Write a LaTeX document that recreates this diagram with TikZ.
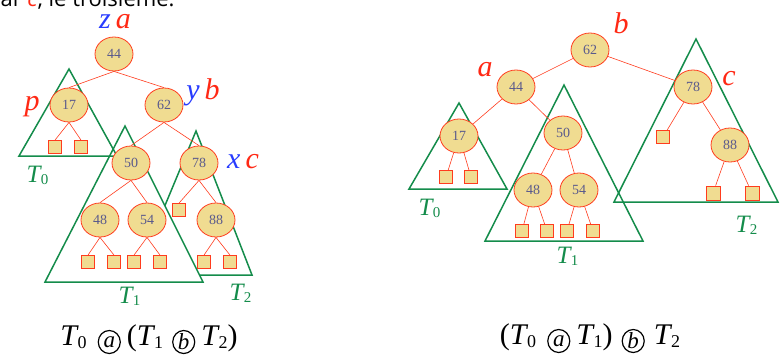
\documentclass[tikz,border=0pt]{standalone}
\usepackage{fontspec}
\usepackage{graphicx}
\setmainfont{Liberation Serif}
\newfontfamily\introfont{Open Sans}
\usetikzlibrary{shapes.geometric}
\definecolor{keyfill}{RGB}{240,220,145}
\definecolor{keyline}{RGB}{255,60,30}
\definecolor{keytext}{RGB}{90,90,140}
\definecolor{treegreen}{RGB}{20,140,75}
\definecolor{labred}{RGB}{255,40,20}
\definecolor{labblue}{RGB}{40,60,255}
\newcommand{\tname}[1]{\textit{T}\kern-0.04em\raisebox{-0.1em}{\scalebox{0.6}{#1}}}
\newcommand{\opc}[1]{\tikz[baseline={([yshift=-3pt]opc.center)}]\node[draw,ellipse,line width=1.2pt,inner sep=0pt,minimum width=22pt,minimum height=23pt,font=\fontsize{23}{23}\selectfont\itshape](opc){#1};}

\begin{document}
\begin{tikzpicture}[x=1pt,y=-1pt, key/.style={ellipse,draw=keyline,fill=keyfill,line width=0.8pt,minimum width=38pt,minimum height=34pt,inner sep=0pt,text=keytext,font=\fontsize{14}{14}\selectfont}, leaf/.style={rectangle,draw=keyline,fill=keyfill,line width=0.8pt,minimum size=13pt,inner sep=0pt}, edge/.style={draw=keyline,line width=0.6pt}, subtree/.style={draw=treegreen,line width=1.5pt,line join=miter}, lab/.style={anchor=base,font=\fontsize{30}{30}\selectfont\itshape}, tlab/.style={anchor=base west,text=treegreen,font=\fontsize{25}{25}\selectfont}, caption/.style={anchor=base,font=\fontsize{30}{34}\selectfont}]
\useasboundingbox (0,0) rectangle (783,354);
\node[anchor=base west,font=\introfont\fontsize{22}{26}\selectfont] (intro) at (-3,6) {ar {\color{labred}\textit{c}}, le troisième.};
% left: T0 a (T1 b T2)
\draw[subtree,fill=white] (196,131) -- (136,275) -- (252,275) -- cycle;
\draw[subtree,fill=white] (125,126) -- (45,282) -- (203,282) -- cycle;
\draw[subtree] (69,69) -- (19,156) -- (117,156) -- cycle;
\node[key] (l44) at (114,54) {44};
\node[key] (l17) at (69,105) {17};
\node[key] (l62) at (164,105) {62};
\node[key] (l50) at (131,163) {50};
\node[key] (l78) at (199,163) {78};
\node[key] (l48) at (100,220) {48};
\node[key] (l54) at (147,220) {54};
\node[key] (l88) at (216,220) {88};
\node[leaf] (l17a) at (55,147) {};
\node[leaf] (l17b) at (81,147) {};
\node[leaf] (l78a) at (179,210) {};
\node[leaf] (l48a) at (88,262) {};
\node[leaf] (l48b) at (114,262) {};
\node[leaf] (l54a) at (134,262) {};
\node[leaf] (l54b) at (160,262) {};
\node[leaf] (l88a) at (204,262) {};
\node[leaf] (l88b) at (230,262) {};
\draw[edge] (l44.south) -- (l17.north); \draw[edge] (l44.south) -- (l62.north);
\draw[edge] (l17.south) -- (l17a.north); \draw[edge] (l17.south) -- (l17b.north);
\draw[edge] (l62.south) -- (l50.north); \draw[edge] (l62.south) -- (l78.north);
\draw[edge] (l50.south) -- (l48.north); \draw[edge] (l50.south) -- (l54.north);
\draw[edge] (l78.south) -- (l78a.north); \draw[edge] (l78.south) -- (l88.north);
\draw[edge] (l48.south) -- (l48a.north); \draw[edge] (l48.south) -- (l48b.north);
\draw[edge] (l54.south) -- (l54a.north); \draw[edge] (l54.south) -- (l54b.north);
\draw[edge] (l88.south) -- (l88a.north); \draw[edge] (l88.south) -- (l88b.north);
\node[lab] (lza) at (115,28) {{\color{labblue}z}\,{\color{labred}a}};
\node[lab,text=labred] (lp) at (32,110) {p};
\node[lab] (lyb) at (203,99) {{\color{labblue}y}\,{\color{labred}b}};
\node[lab] (lxc) at (243,168) {{\color{labblue}x}\,{\color{labred}c}};
\node[tlab] (lt0) at (23,182) {\tname{0}};
\node[tlab] (lt1) at (115,303) {\tname{1}};
\node[tlab] (lt2) at (226,300) {\tname{2}};
\node[caption] (capleft) at (149,345) {\tname{0}\kern11pt\opc{a}\kern6pt(\tname{1}\kern9pt\opc{b}\kern6pt\tname{2})};
% right: (T0 a T1) b T2
\draw[subtree] (459,103) -- (409,189) -- (507,189) -- cycle;
\draw[subtree] (564,85) -- (485,241) -- (643,241) -- cycle;
\draw[subtree] (696,39) -- (614,202) -- (778,202) -- cycle;
\node[key] (r62) at (590,50) {62};
\node[key] (r44) at (516,87) {44};
\node[key] (r78) at (693,87) {78};
\node[key] (r17) at (459,136) {17};
\node[key] (r50) at (563,133) {50};
\node[key] (r88) at (730,145) {88};
\node[key] (r48) at (533,190) {48};
\node[key] (r54) at (579,190) {54};
\node[leaf] (r17a) at (446,177) {};
\node[leaf] (r17b) at (471,177) {};
\node[leaf] (r78a) at (663,137) {};
\node[leaf] (r48a) at (522,231) {};
\node[leaf] (r48b) at (547,231) {};
\node[leaf] (r54a) at (567,231) {};
\node[leaf] (r54b) at (593,231) {};
\node[leaf,minimum size=14pt] (r88a) at (713,193) {};
\node[leaf,minimum size=14pt] (r88b) at (752,193) {};
\draw[edge] (r62) -- (r44); \draw[edge] (r62) -- (r78);
\draw[edge] (r44) -- (r17); \draw[edge] (r44) -- (r50);
\draw[edge] (r17) -- (r17a); \draw[edge] (r17) -- (r17b);
\draw[edge] (r50) -- (r48); \draw[edge] (r50) -- (r54);
\draw[edge] (r48) -- (r48a); \draw[edge] (r48) -- (r48b);
\draw[edge] (r54) -- (r54a); \draw[edge] (r54) -- (r54b);
\draw[edge] (r78) -- (r78a); \draw[edge] (r78) -- (r88);
\draw[edge] (r88) -- (r88a); \draw[edge] (r88) -- (r88b);
\node[lab,text=labred] (rb) at (621,33) {b};
\node[lab,text=labred] (ra) at (485,76) {a};
\node[lab,text=labred] (rc) at (729,85) {c};
\node[tlab] (rt0) at (415,215) {\tname{0}};
\node[tlab] (rt1) at (553,263) {\tname{1}};
\node[tlab] (rt2) at (732,232) {\tname{2}};
\node[caption] (capright) at (590,344) {(\tname{0}\kern11pt\opc{a}\kern6pt\tname{1})\kern9pt\opc{b}\kern9pt\tname{2}};
\end{tikzpicture}
\end{document}
